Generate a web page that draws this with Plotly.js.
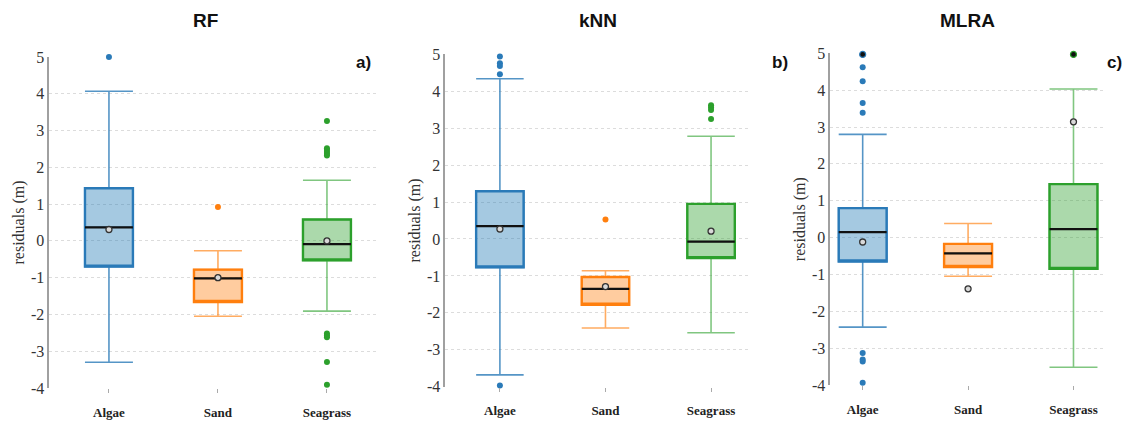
<!DOCTYPE html>
<html>
<head>
<meta charset="utf-8">
<script src="https://cdn.plot.ly/plotly-3.0.1.min.js"></script>
<style>html,body{margin:0;padding:0;background:#fff;}#chart{width:1128px;height:421px;}</style>
</head>
<body>
<div id="chart"></div>
<script>
// ---------- DATA ----------
const categories = ['Algae', 'Sand', 'Seagrass'];
const panelTitles = ['RF', 'kNN', 'MLRA'];
const panelLetters = ['a)', 'b)', 'c)'];
const yTickVals = [-4, -3, -2, -1, 0, 1, 2, 3, 4, 5];
const yTickText = ['-4', '-3', '-2', '-1', '0', '1', '2', '3', '4', '5'];

// RF
const rfQ1 = [-0.70, -1.66, -0.53];
const rfMedian = [0.37, -1.02, -0.09];
const rfQ3 = [1.43, -0.78, 0.58];
const rfLower = [-3.30, -2.05, -1.91];
const rfUpper = [4.07, -0.27, 1.65];
const rfMean = [0.31, -1.00, 0.00];
const rfOutX = ['Algae', 'Sand', 'Seagrass', 'Seagrass', 'Seagrass', 'Seagrass', 'Seagrass', 'Seagrass', 'Seagrass', 'Seagrass', 'Seagrass', 'Seagrass', 'Seagrass'];
const rfOutY = [5.0, 0.92, 3.26, 2.52, 2.47, 2.42, 2.37, 2.32, -2.52, -2.57, -2.62, -3.29, -3.91];

// kNN
const knnQ1 = [-0.77, -1.78, -0.52];
const knnMedian = [0.35, -1.35, -0.07];
const knnQ3 = [1.29, -1.03, 0.95];
const knnLower = [-3.68, -2.41, -2.54];
const knnUpper = [4.34, -0.86, 2.78];
const knnMean = [0.27, -1.29, 0.21];
const knnOutX = ['Algae', 'Algae', 'Algae', 'Algae', 'Algae', 'Sand', 'Seagrass', 'Seagrass', 'Seagrass', 'Seagrass'];
const knnOutY = [4.94, 4.76, 4.68, 4.46, -3.97, 0.53, 3.62, 3.56, 3.49, 3.25];

// MLRA
const mlraQ1 = [-0.65, -0.80, -0.85];
const mlraMedian = [0.15, -0.43, 0.23];
const mlraQ3 = [0.80, -0.17, 1.45];
const mlraLower = [-2.43, -1.05, -3.52];
const mlraUpper = [2.80, 0.38, 4.03];
const mlraMean = [-0.12, -1.39, 3.14];
const mlraOutX = ['Algae', 'Algae', 'Algae', 'Algae', 'Algae', 'Algae', 'Algae', 'Algae'];
const mlraOutY = [4.62, 4.24, 3.65, 3.39, -3.13, -3.31, -3.36, -3.94];
const mlraEdgeX = ['Algae', 'Algae', 'Sand', 'Seagrass'];
const mlraEdgeY = [4.97, -4.03, -4.03, 4.97];

// ---------- STYLE ----------
const lineCol = {Algae: '#2a7ab8', Sand: '#ff7f0e', Seagrass: '#2ca02c'};
const whiskCol = {Algae: 'rgba(42,122,184,0.8)', Sand: 'rgba(255,127,14,0.65)', Seagrass: 'rgba(44,160,44,0.6)'};
const fillCol = {Algae: 'rgba(31,119,180,0.4)', Sand: 'rgba(255,127,14,0.4)', Seagrass: 'rgba(44,160,44,0.4)'};
const serif = 'Liberation Serif, Times New Roman, serif';
const sans = 'Liberation Sans, Arial, sans-serif';

const panels = [
  {q1: rfQ1, med: rfMedian, q3: rfQ3, lo: rfLower, hi: rfUpper, mean: rfMean, ox: rfOutX, oy: rfOutY, ex: [], ey: []},
  {q1: knnQ1, med: knnMedian, q3: knnQ3, lo: knnLower, hi: knnUpper, mean: knnMean, ox: knnOutX, oy: knnOutY, ex: [], ey: []},
  {q1: mlraQ1, med: mlraMedian, q3: mlraQ3, lo: mlraLower, hi: mlraUpper, mean: mlraMean, ox: mlraOutX, oy: mlraOutY, ex: mlraEdgeX, ey: mlraEdgeY}
];

const geom = [
  {xd: [49 / 1128, 376 / 1128], yd: [1 - 388 / 421, 1 - 57 / 421], xr: [-0.55, 2.45], w: 0.44},
  {xd: [445 / 1128, 748 / 1128], yd: [1 - 386.7 / 421, 1 - 54.3 / 421], xr: [-0.52, 2.35], w: 0.45},
  {xd: [830 / 1128, 1103 / 1128], yd: [1 - 385 / 421, 1 - 53.3 / 421], xr: [-0.31, 2.28], w: 0.455}
];

const traces = [];
panels.forEach((p, pi) => {
  const xa = pi === 0 ? 'x' : 'x' + (pi + 1);
  const ya = pi === 0 ? 'y' : 'y' + (pi + 1);
  categories.forEach((c, ci) => {
    // whiskers
    traces.push({
      type: 'box', x: [c], q1: [p.q1[ci]], median: [p.med[ci]], q3: [p.q3[ci]],
      lowerfence: [p.lo[ci]], upperfence: [p.hi[ci]],
      xaxis: xa, yaxis: ya, width: geom[pi].w, whiskerwidth: 1,
      line: {color: whiskCol[c], width: 1.6}, fillcolor: 'rgba(0,0,0,0)',
      boxpoints: false, hoverinfo: 'skip', showlegend: false
    });
    // box body
    traces.push({
      type: 'box', x: [c], q1: [p.q1[ci]], median: [p.q1[ci]], q3: [p.q3[ci]],
      lowerfence: [p.q1[ci]], upperfence: [p.q3[ci]],
      xaxis: xa, yaxis: ya, width: geom[pi].w, whiskerwidth: 1,
      line: {color: lineCol[c], width: 2.4}, fillcolor: fillCol[c],
      boxpoints: false, hoverinfo: 'skip', showlegend: false
    });
    // median line
    traces.push({
      type: 'box', x: [c], q1: [p.med[ci]], median: [p.med[ci]], q3: [p.med[ci]],
      lowerfence: [p.med[ci]], upperfence: [p.med[ci]],
      xaxis: xa, yaxis: ya, width: geom[pi].w, whiskerwidth: 1,
      line: {color: '#111', width: 2.2}, fillcolor: 'rgba(0,0,0,0)',
      boxpoints: false, hoverinfo: 'skip', showlegend: false
    });
  });
  // outliers
  traces.push({
    type: 'scatter', mode: 'markers', x: p.ox, y: p.oy, xaxis: xa, yaxis: ya,
    marker: {size: 6, color: p.ox.map(c => lineCol[c])}, cliponaxis: false, showlegend: false
  });
  if (p.ex.length) {
    traces.push({
      type: 'scatter', mode: 'markers', x: p.ex, y: p.ey, xaxis: xa, yaxis: ya,
      marker: {size: 6, color: '#111', line: {color: p.ex.map(c => lineCol[c]), width: 1.2}},
      cliponaxis: false, showlegend: false
    });
  }
  // means
  traces.push({
    type: 'scatter', mode: 'markers', x: categories, y: p.mean, xaxis: xa, yaxis: ya,
    marker: {size: 6, color: '#d9d9d9', line: {color: '#333', width: 1.3}},
    cliponaxis: false, showlegend: false
  });
});

const layout = {
  width: 1128, height: 421,
  margin: {l: 0, r: 0, t: 0, b: 0},
  paper_bgcolor: '#fff', plot_bgcolor: '#fff',
  boxmode: 'overlay',
  showlegend: false,
  annotations: []
};

geom.forEach((g, pi) => {
  const sx = pi === 0 ? '' : String(pi + 1);
  layout['xaxis' + sx] = {
    domain: g.xd, range: g.xr, type: 'category', categoryarray: categories, categoryorder: 'array',
    anchor: 'y' + sx, showgrid: false, zeroline: false, showline: false,
    ticks: 'outside', ticklen: 4, tickwidth: 1, tickcolor: '#aaa',
    ticklabelstandoff: 8,
    tickfont: {family: serif, size: 13, color: '#222', weight: 'bold'},
    fixedrange: true
  };
  layout['yaxis' + sx] = {
    domain: g.yd, range: [-4, 5], tickvals: yTickVals, ticktext: yTickText, anchor: 'x' + sx,
    showline: true, linecolor: '#a0a0a0', linewidth: 2.5,
    showgrid: true, gridcolor: '#dcdcdc', griddash: 'dot', gridwidth: 1,
    zeroline: false, ticks: '', ticklabelstandoff: -1,
    tickfont: {family: serif, size: 16, color: '#333'},
    title: {text: 'residuals (m)', standoff: 3, font: {family: serif, size: 16, color: '#333'}},
    fixedrange: true
  };
});

const titleX = [205, 598, 967];
const letterX = [363, 780, 1114];
panelTitles.forEach((t, i) => {
  layout.annotations.push({
    text: t, xref: 'paper', yref: 'paper', x: titleX[i] / 1128, y: 1 - 20 / 421,
    xanchor: 'center', yanchor: 'middle', showarrow: false,
    font: {family: sans, size: 19, color: '#111', weight: 'bold'}
  });
  layout.annotations.push({
    text: panelLetters[i], xref: 'paper', yref: 'paper', x: letterX[i] / 1128, y: 1 - 62 / 421,
    xanchor: 'center', yanchor: 'middle', showarrow: false,
    font: {family: sans, size: 17, color: '#111', weight: 'bold'}
  });
});

Plotly.newPlot('chart', traces, layout, {displayModeBar: false, staticPlot: true});
</script>
</body>
</html>
